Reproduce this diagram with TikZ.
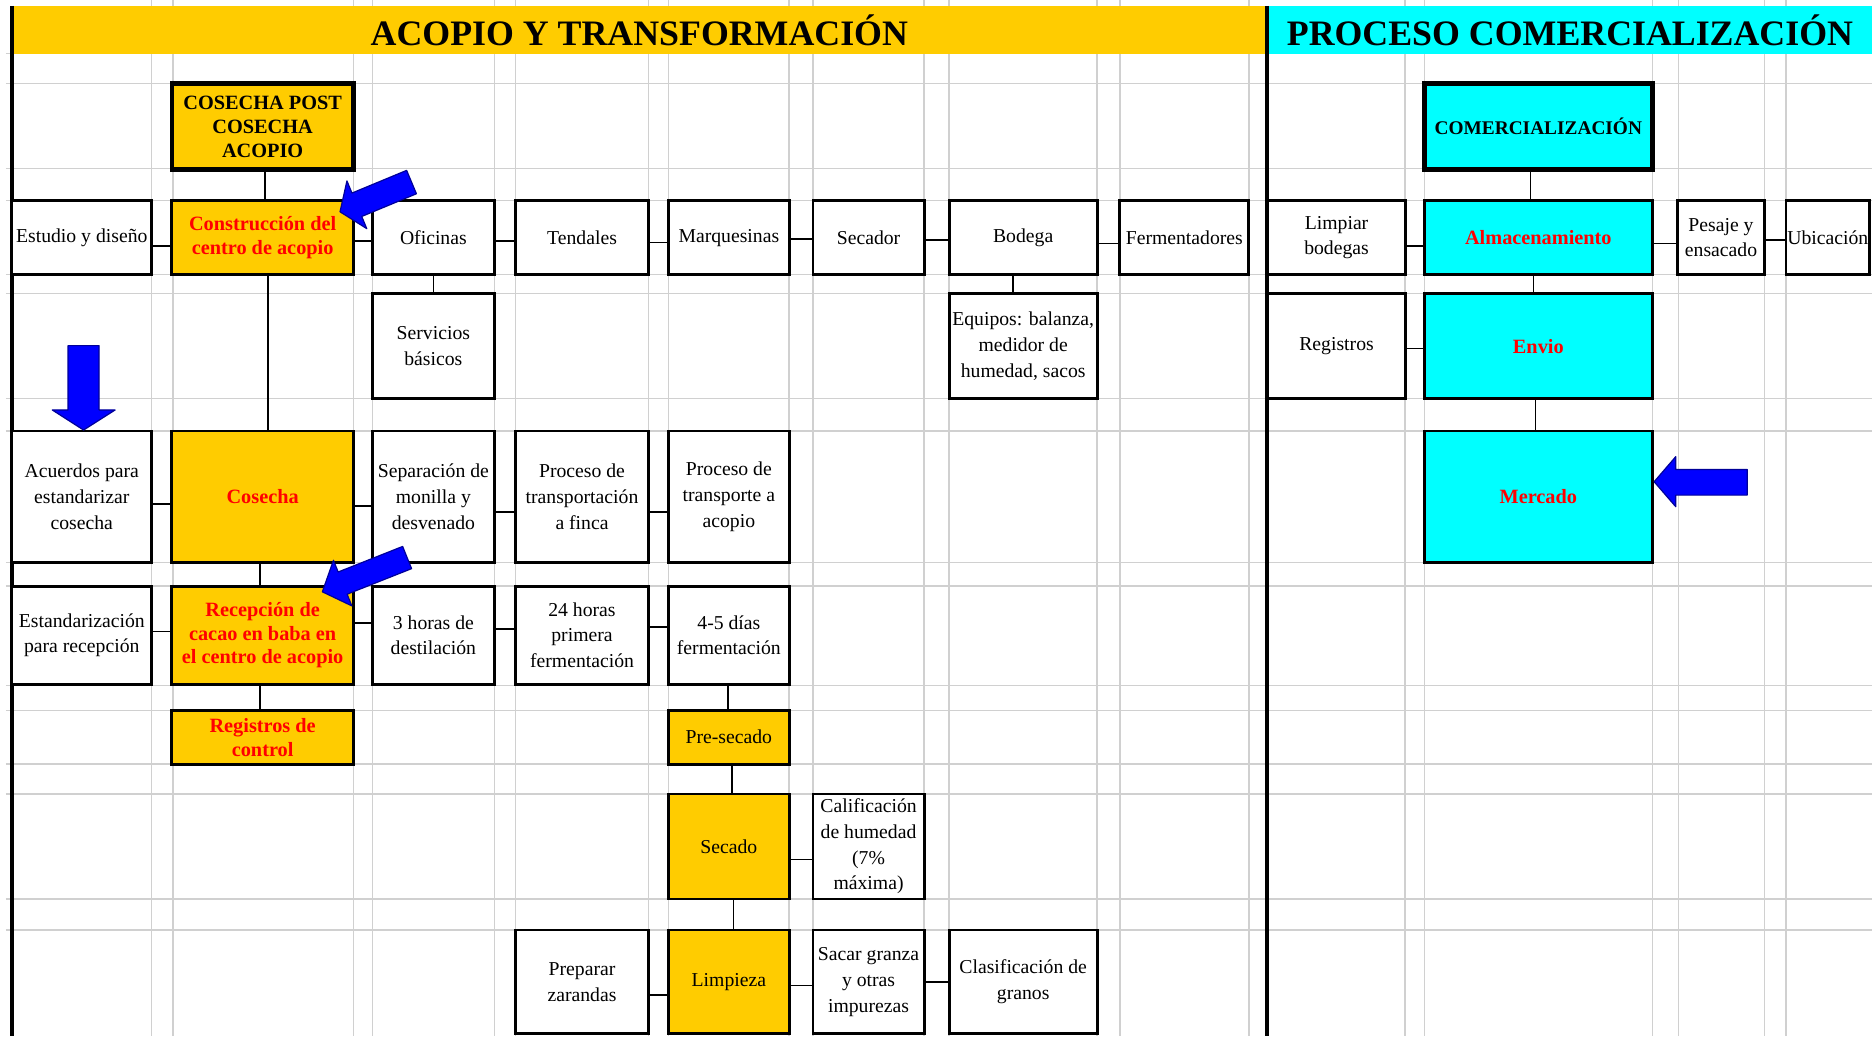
\documentclass[tikz,border=0pt]{standalone}
\usepackage{fontspec}
\setmainfont{Liberation Serif}

\definecolor{amarillo}{HTML}{FFCC00}
\definecolor{celeste}{HTML}{00FFFF}
\definecolor{rojo}{HTML}{FF0000}
\definecolor{azul}{HTML}{0000FF}
\definecolor{gris}{HTML}{D0D0D0}

\tikzset{
	caja/.style={draw, line width=2.4pt, fill=white, inner sep=0pt, align=center,
		font=\fontsize{16.5}{21.5}\selectfont},
	tam/.style 2 args={minimum width=#1pt, minimum height=#2pt},
	amarilla/.style={caja, fill=amarillo},
	cian/.style={caja, fill=celeste},
	roja/.style={text=rojo, font=\fontsize{17}{20}\selectfont\bfseries},
	gruesa/.style={line width=4pt, font=\fontsize{17}{20}\selectfont\bfseries},
	banda/.style={inner sep=0pt, font=\fontsize{30}{30}\selectfont\bfseries},
	rejilla/.style={draw=gris, line width=1.2pt},
	conector/.style={line width=1.3pt},
	flecha/.style={fill=azul, draw=azul!60!black, line width=1pt, line join=round}
}

\begin{document}
\begin{tikzpicture}[x=1pt, y=-1pt]

	\useasboundingbox[fill=white] (0,0) rectangle (1568,868);

	\foreach \x in {127,145,296,312,414,432,543,560,661,681,774,795,919,938,1046,1177,1193,1384,1406,1478,1496}
		\draw[rejilla] (\x,0) -- (\x,868);
	\foreach \y in {45,70,141,168,230,246,334,361,471,491,574,595,640,665,753,779}
		\draw[rejilla] (5,\y) -- (1568,\y);

	\node[banda, fill=amarillo, minimum width=1051pt, minimum height=40pt] (acopio) at (535.5,25) {ACOPIO Y TRANSFORMACIÓN};
	\node[banda, fill=celeste, minimum width=506pt, minimum height=40pt] (proceso) at (1315,25) {PROCESO COMERCIALIZACIÓN};
	\draw[line width=3.5pt] (10,5) -- (10,868);
	\draw[line width=3.5pt] (1061.5,5) -- (1061.5,868);

	\node[amarilla, gruesa, tam={152}{72}] (cosechapost) at (220,106) {COSECHA POST\\COSECHA\\ACOPIO};
	\node[cian, gruesa, tam={191}{72}, font=\fontsize{16.2}{18}\selectfont\bfseries] (comercial) at (1288.5,106) {COMERCIALIZACIÓN};

	\node[caja, tam={117}{62}] (estudio) at (68.5,199) {Estudio y diseño};
	\node[amarilla, roja, tam={152}{62}] (construccion) at (220,199) {Construcción del\\centro de acopio};
	\node[caja, tam={102}{62}] (oficinas) at (363,199) {Oficinas};
	\node[caja, tam={111}{62}] (tendales) at (487.5,199) {Tendales};
	\node[caja, tam={101}{62}] (marquesinas) at (610.5,199) {Marquesinas};
	\node[caja, tam={93}{62}] (secador) at (727.5,199) {Secador};
	\node[caja, tam={124}{62}] (bodega) at (857,199) {Bodega};
	\node[caja, tam={108}{62}] (fermentadores) at (992,199) {Fermentadores};
	\node[caja, tam={115}{62}] (limpiar) at (1119.5,199) {Limpiar\\bodegas};
	\node[cian, roja, tam={191}{62}] (almacen) at (1288.5,199) {Almacenamiento};
	\node[caja, tam={73}{62}] (pesaje) at (1441.5,199) {Pesaje y\\ensacado};
	\node[caja, tam={70}{62}] (ubicacion) at (1531,199) {Ubicación};

	\node[caja, tam={102}{88}] (servicios) at (363,290) {Servicios\\básicos};
	\node[caja, tam={124}{88}] (equipos) at (857,290) {Equipos: balanza,\\medidor de\\humedad, sacos};
	\node[caja, tam={115}{88}] (registros) at (1119.5,290) {Registros};
	\node[cian, roja, tam={191}{88}] (envio) at (1288.5,290) {Envio};

	\node[caja, tam={117}{110}] (acuerdos) at (68.5,416) {Acuerdos para\\estandarizar\\cosecha};
	\node[amarilla, roja, tam={152}{110}] (cosecha) at (220,416) {Cosecha};
	\node[caja, tam={102}{110}] (separacion) at (363,416) {Separación de\\monilla y\\desvenado};
	\node[caja, tam={111}{110}] (transportacion) at (487.5,416) {Proceso de\\transportación\\a finca};
	\node[caja, tam={101}{110}] (transporte) at (610.5,416) {Proceso de\\transporte a\\acopio};
	\node[cian, roja, tam={191}{110}] (mercado) at (1288.5,416) {Mercado};

	\node[caja, tam={117}{82}] (estandarizacion) at (68.5,532) {Estandarización\\para recepción};
	\node[amarilla, roja, tam={152}{82}] (recepcion) at (220,532) {Recepción de\\cacao en baba en\\el centro de acopio};
	\node[caja, tam={102}{82}] (treshoras) at (363,532) {3 horas de\\destilación};
	\node[caja, tam={111}{82}] (veinticuatro) at (487.5,532) {24 horas\\primera\\fermentación};
	\node[caja, tam={101}{82}] (cuatrocinco) at (610.5,532) {4-5 días\\fermentación};

	\node[amarilla, roja, tam={152}{45}] (regcontrol) at (220,617.5) {Registros de\\control};
	\node[amarilla, tam={101}{45}] (presecado) at (610.5,617.5) {Pre-secado};

	\node[amarilla, tam={101}{88}] (secado) at (610.5,709) {Secado};
	\node[caja, tam={93}{88}] (calificacion) at (727.5,709) {Calificación\\de humedad\\(7\%\\máxima)};

	\node[caja, tam={111}{87}] (preparar) at (487.5,822.5) {Preparar\\zarandas};
	\node[amarilla, tam={101}{87}] (limpieza) at (610.5,822.5) {Limpieza};
	\node[caja, tam={93}{87}] (sacar) at (727.5,822.5) {Sacar granza\\y otras\\impurezas};
	\node[caja, tam={124}{87}] (clasificacion) at (857,822.5) {Clasificación de\\granos};

	\foreach \a/\b/\d in {estudio/construccion/-7, construccion/oficinas/-3, oficinas/tendales/-3,
		tendales/marquesinas/-4, marquesinas/secador/-1, secador/bodega/-2, bodega/fermentadores/-5,
		limpiar/almacen/-7, almacen/pesaje/-5, pesaje/ubicacion/-2, registros/envio/-2,
		acuerdos/cosecha/-6, cosecha/separacion/-8, separacion/transportacion/-13, transportacion/transporte/-13,
		estandarizacion/recepcion/3, recepcion/treshoras/10, treshoras/veinticuatro/5, veinticuatro/cuatrocinco/7,
		secado/calificacion/-11, preparar/limpieza/-11, limpieza/sacar/-3, sacar/clasificacion/0}
		\draw[conector] ([yshift=\d pt]\a.east) -- ([yshift=\d pt]\b.west);

	\foreach \a/\b/\d in {cosechapost/construccion/2, oficinas/servicios/0, bodega/equipos/-8.5,
		construccion/cosecha/4.5, cosecha/recepcion/-2, recepcion/regcontrol/-2,
		cuatrocinco/presecado/-0.5, presecado/secado/2.5, secado/limpieza/4,
		comercial/almacen/-6.5, almacen/envio/-4, envio/mercado/-2.5}
		\draw[conector] ([xshift=\d pt]\a.south) -- ([xshift=\d pt]\b.north);

	\draw[flecha] (284.8,177.4) -- (307.2,191.5) -- (303.0,181.3) -- (348.8,162.3)
		-- (340.6,142.7) -- (294.8,161.7) -- (290.6,151.5) -- cycle;
	\draw[flecha] (270,495.7) -- (294.7,507.5) -- (290.75,497.7) -- (344.75,476.3)
		-- (337.25,457.7) -- (283.25,479.1) -- (279.3,469.3) -- cycle;
	\draw[flecha] (70,360.2) -- (96.4,343.4) -- (83,343.4) -- (83,289.5)
		-- (57,289.5) -- (57,343.4) -- (43.8,343.4) -- cycle;
	\draw[flecha] (1385.5,403.5) -- (1403.6,382.5) -- (1403.6,393.2) -- (1463.5,393.2)
		-- (1463.5,414.7) -- (1403.6,414.7) -- (1403.6,424.4) -- cycle;

\end{tikzpicture}
\end{document}
